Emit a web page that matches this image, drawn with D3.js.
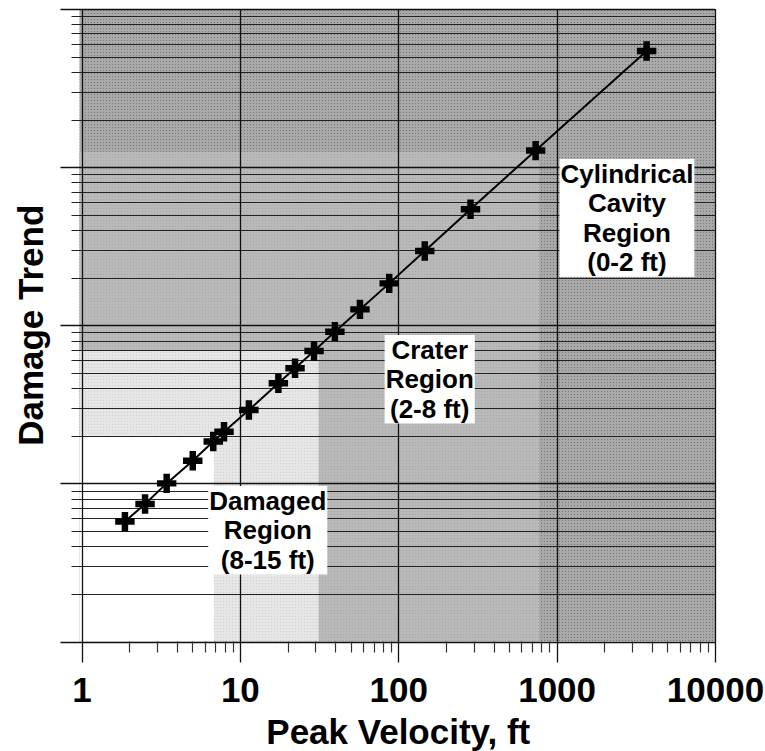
<!DOCTYPE html>
<html><head><meta charset="utf-8">
<script src="https://cdn.jsdelivr.net/npm/d3@7"></script>
<style>body{margin:0;background:#fff}svg{display:block}text{font-family:"Liberation Sans",Arial,sans-serif;font-weight:bold}</style>
</head><body>
<svg id="c" width="765" height="751"></svg>
<script>
// Data
const velocity = [1.88, 2.52, 3.45, 5.04, 6.79, 7.94, 11.4, 17.5, 22.3, 29.4, 39.8, 57.3, 87.7, 147, 286, 737, 3700];
const damage   = [5.73, 7.41, 10.0, 13.9, 18.4, 21.2, 29.1, 43.0, 53.5, 68.8, 91.1, 126, 184, 295, 542, 1272, 5430];
const xTickLabels = ["1", "10", "100", "1000", "10000"];
// region corners (upper-right corner of each nested lower-left rectangle)
const regionNames = ["Cylindrical Cavity", "Crater", "Damaged"];
const regionX = [775, 31.4, 6.86];
const regionY = [1248, 69.8, 20];
// annotation labels
const labelLines = [["Damaged", "Region", "(8-15 ft)"], ["Crater", "Region", "(2-8 ft)"], ["Cylindrical", "Cavity", "Region", "(0-2 ft)"]];
const labelX = [15.0, 158, 2780];
const labelTopY = [9.63, 86.8, 1127];

const svg = d3.select("#c");
const L = 81.5, R = 715, T = 9, B = 641.5;
const x = d3.scaleLog().domain([1, 10000]).range([L, R]);
const y = d3.scaleLog().domain([1, 10000]).range([B, T]);

// patterns
const defs = svg.append("defs");
function pat(id, base, dot) {
  const p = defs.append("pattern").attr("id", id).attr("patternUnits", "userSpaceOnUse").attr("width", 3).attr("height", 3);
  p.append("rect").attr("width", 3).attr("height", 3).attr("fill", base);
  p.append("rect").attr("x", 1).attr("y", 1).attr("width", 1).attr("height", 1).attr("fill", dot);
}
pat("pDark", "#a9a9a9", "#777777");
pat("pMed", "#b9b9b9", "#a8a8a8");
pat("pLight", "#e6e6e6", "#cfcfcf");

const g = svg.append("g");
// whole plot dark, then nested lighter rectangles
g.append("rect").attr("x", x(1) - 2).attr("y", y(10000)).attr("width", x(10000) - x(1) + 2).attr("height", y(1) - y(10000)).attr("fill", "url(#pDark)");
const fills = ["url(#pMed)", "url(#pLight)", "#ffffff"];
regionX.forEach((rx, i) => {
  g.append("rect").attr("x", x(1) - 2).attr("y", y(regionY[i])).attr("width", x(rx) - x(1) + 2).attr("height", y(1) - y(regionY[i])).attr("fill", fills[i]);
});

// y grid/ticks
const yMajor = [1, 10, 100, 1000, 10000];
const yMinor = [];
for (let d = 1; d < 10000; d *= 10) for (let k = 2; k <= 9; k++) yMinor.push(d * k);
g.selectAll(".hmin").data(yMinor).join("line")
  .attr("x1", L - 10).attr("x2", R).attr("y1", d => Math.round(y(d)) + 0.5).attr("y2", d => Math.round(y(d)) + 0.5)
  .attr("stroke", "#222").attr("stroke-width", 1.2);
g.selectAll(".hmaj").data(yMajor).join("line")
  .attr("x1", L - 21).attr("x2", R).attr("y1", d => Math.round(y(d)) + 0.5).attr("y2", d => Math.round(y(d)) + 0.5)
  .attr("stroke", "#111").attr("stroke-width", 1.3);

// x ticks and major verticals
const xMinor = [];
for (let d = 1; d < 10000; d *= 10) for (let k = 2; k <= 9; k++) xMinor.push(d * k);
g.selectAll(".xmin").data(xMinor).join("line")
  .attr("x1", d => Math.round(x(d)) + 0.5).attr("x2", d => Math.round(x(d)) + 0.5).attr("y1", B).attr("y2", B + 11)
  .attr("stroke", "#333").attr("stroke-width", 1.2);
g.selectAll(".xmaj").data(yMajor).join("line")
  .attr("x1", d => Math.round(x(d)) + 0.5).attr("x2", d => Math.round(x(d)) + 0.5).attr("y1", T).attr("y2", B + 21)
  .attr("stroke", "#111").attr("stroke-width", 1.3);

// x tick labels via axis
const ax = d3.axisBottom(x).tickValues(yMajor).tickFormat((d, i) => xTickLabels[i]).tickSize(0).tickPadding(0);
const axg = svg.append("g").attr("transform", `translate(0,${B + 35.7})`).call(ax);
axg.select(".domain").remove();
axg.selectAll("text").attr("font-size", 35).attr("font-family", "'Liberation Sans',Arial,sans-serif").attr("font-weight", "bold").attr("fill", "#000");

// line and crosses
const pts = velocity.map((v, i) => [v, damage[i]]);
g.append("path").datum(pts).attr("fill", "none").attr("stroke", "#000").attr("stroke-width", 2)
  .attr("d", d3.line().x(d => x(d[0])).y(d => y(d[1])));
g.selectAll(".pt").data(pts).join("path")
  .attr("transform", d => `translate(${x(d[0])},${y(d[1])})`)
  .attr("d", d3.symbol(d3.symbolCross, 210)).attr("fill", "#000");

// annotation boxes
labelLines.forEach((lines, i) => {
  const cx = x(labelX[i]), top = y(labelTopY[i]);
  const lg = svg.append("g");
  const rect = lg.append("rect").attr("fill", "#fff");
  const texts = lines.map((t, j) => lg.append("text").attr("x", cx).attr("y", top + 24 + j * 29.5)
    .attr("text-anchor", "middle").attr("font-size", 26).text(t));
  const w = d3.max(texts, t => t.node().getComputedTextLength()) + 2;
  rect.attr("x", cx - w / 2).attr("y", top).attr("width", w).attr("height", lines.length * 29.5);
});

// axis titles
svg.append("text").attr("x", (L + R) / 2).attr("y", 744).attr("text-anchor", "middle").attr("font-size", 35).text("Peak Velocity, ft");
svg.append("text").attr("transform", `translate(43,${(T + B) / 2}) rotate(-90)`).attr("text-anchor", "middle").attr("font-size", 35).text("Damage Trend");
</script>
</body></html>
